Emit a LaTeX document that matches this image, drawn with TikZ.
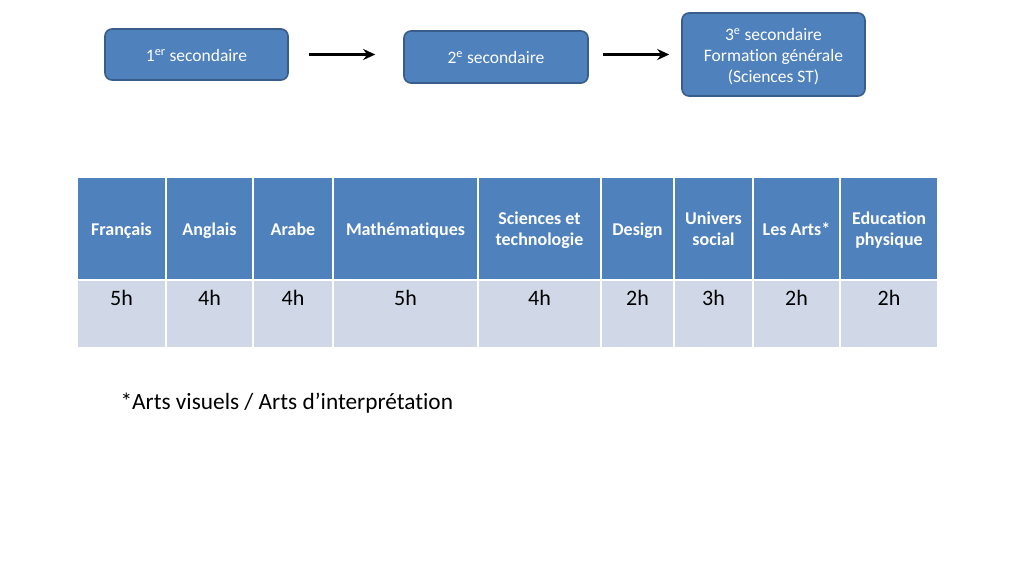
\documentclass[tikz,border=0pt]{standalone}
\usepackage{fontspec}
\setmainfont{Carlito}[Ligatures=NoCommon]
\usetikzlibrary{arrows.meta}
\definecolor{boxblue}{HTML}{4F81BD}
\definecolor{boxedge}{HTML}{385D8A}
\definecolor{cellgrey}{HTML}{D0D8E8}
\newcommand{\cellstack}[2][20pt]{\begin{tabular}{@{}c@{}}\rule{0pt}{#1}#2\end{tabular}}

\begin{document}
\begin{tikzpicture}[x=1pt, y=-1pt,
  level/.style={draw=boxedge, line width=1.6pt, fill=boxblue, rounded corners=7pt,
    text=white, font=\fontsize{17.5}{21}\selectfont},
  flow/.style={-{Stealth[length=12pt, width=11pt]}, line width=2.2pt},
  hdcell/.style={draw=white, line width=2.5pt, fill=boxblue, text=white,
    font=\bfseries\fontsize{18}{21}\selectfont},
  hrcell/.style={draw=white, line width=2.5pt, fill=cellgrey,
    font=\fontsize{22}{26}\selectfont, text height=15pt, text depth=32pt}]
\useasboundingbox (0,0) rectangle (1024,576);

% years
\node[level, minimum width=183, minimum height=51] (lvl1) at (196.5,54.5)
  {\cellstack[20.5pt]{1\textsuperscript{er} secondaire}};
\node[level, minimum width=184, minimum height=52] (lvl2) at (496,57)
  {\cellstack[19.5pt]{2\textsuperscript{e} secondaire}};
\node[level, minimum width=183, minimum height=83] (lvl3) at (773.5,54.5)
  {\cellstack[20.5pt]{3\textsuperscript{e} secondaire\\ Formation générale\\ (Sciences ST)}};

\draw[flow, shorten <=20pt, shorten >=28pt] (lvl1.east) -- (lvl1.east -| lvl2.west);
\draw[flow, shorten <=14pt, shorten >=12pt] (lvl2.east |- lvl3) -- (lvl3.west);

% subjects and hours
\foreach \i/\l/\r/\txt/\hrs in {1/77/166/Français/5h, 2/166/253/Anglais/4h,
    3/253/333/Arabe/4h, 4/333/478/Mathématiques/5h,
    5/478/601/Sciences et\\ technologie/4h, 6/601/674/Design/2h,
    7/674/753/Univers\\ social/3h, 8/753/840/Les Arts*/2h,
    9/840/938/Education\\ physique/2h}
  {
  \pgfmathsetmacro{\cx}{(\l+\r)/2}
  \pgfmathsetmacro{\w}{\r-\l}
  \node[hdcell, minimum width=\w pt, minimum height=103] (hd\i) at (\cx,228.5) {\cellstack{\txt}};
  \node[hrcell, minimum width=\w pt, minimum height=68] (hr\i) at (\cx,314) {\hrs};
  }

\node[anchor=west, font=\fontsize{23.3}{28}\selectfont] (note) at (117,403)
  {*Arts visuels / Arts d’interprétation};

\end{tikzpicture}
\end{document}
